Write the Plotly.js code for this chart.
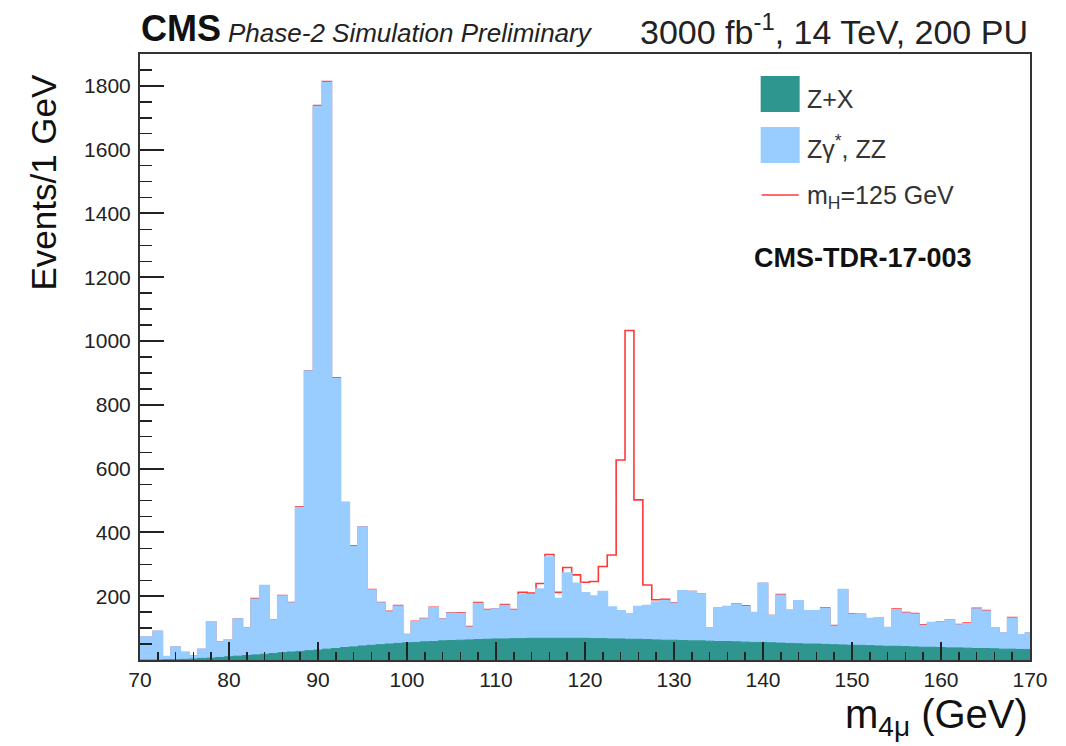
<!DOCTYPE html>
<html>
<head>
<meta charset="utf-8">
<script src="https://cdn.plot.ly/plotly-3.0.1.min.js"></script>
<style>html,body{margin:0;padding:0;background:#fff;}#chart{width:1066px;height:746px;}</style>
</head>
<body>
<div id="chart"></div>
<script>
// Bin centres (GeV), 1 GeV bins
const massBins = [70,71,72,73,74,75,76,77,78,79,80,81,82,83,84,85,86,87,88,89,90,91,92,93,94,95,96,97,98,99,
  100,101,102,103,104,105,106,107,108,109,110,111,112,113,114,115,116,117,118,119,120,121,122,123,124,125,126,127,128,129,
  130,131,132,133,134,135,136,137,138,139,140,141,142,143,144,145,146,147,148,149,150,151,152,153,154,155,156,157,158,159,
  160,161,162,163,164,165,166,167,168,169,170];

// Z+X background (events / bin)
const zPlusX = [0,0,0,1,1,2,3,5,6,8,10,12,14,16,18,20,23,25,27,29,
  31,34,36,39,41,44,46,48,50,52,54,55,57,58,60,61,62,63,64,65,
  66,66,67,67,68,68,68,68,68,68,68,67,67,66,66,65,65,64,63,62,
  62,61,60,60,59,58,58,57,56,55,55,54,53,52,51,50,50,49,48,47,
  46,46,45,44,43,43,42,41,40,40,39,38,38,37,36,36,35,34,34,33,33];

// Zgamma*, ZZ background (events / bin)
const zzBkg = [71,71,89,9,39,21,9,28,113,48,53,116,83,174,215,105,177,153,450,876,
  1704,1776,846,453,314,372,173,130,100,116,24,64,71,105,67,85,83,39,112,90,
  93,104,88,137,136,154,254,124,204,172,142,133,147,99,88,79,102,106,118,124,
  115,155,154,144,40,104,109,118,111,93,185,85,149,103,134,104,104,111,57,173,
  95,97,84,87,58,114,104,102,67,77,79,87,71,76,123,116,64,50,96,45,51];

// Higgs signal m_H = 125 GeV (events / bin)
const higgsSig = [0,0,0,0,0,0,0,0,0,0,0,0,2,3,0,0,2,2,3,2,
  3,4,3,2,3,1,2,2,3,3,2,2,2,2,1,2,3,3,4,3,
  1,4,3,8,6,18,9,20,18,27,34,46,79,164,473,889,335,65,8,4,
  2,1,1,2,0,0,0,1,3,0,0,0,3,0,0,0,0,3,3,0,
  3,0,0,0,0,3,3,3,3,0,2,0,2,3,3,3,0,0,3,0,0];

const xTickVals = [70,80,90,100,110,120,130,140,150,160,170];
const yTickVals = [200,400,600,800,1000,1200,1400,1600,1800];

// stack
const stackZX = zPlusX.slice();
const stackBkg = zPlusX.map((v, i) => v + zzBkg[i]);
const stackTot = stackBkg.map((v, i) => v + higgsSig[i]);

// step-histogram coordinates (left edges + closing right edge)
function stepX(centres) {
  const xs = centres.map(c => c - 0.5);
  xs.push(centres[centres.length - 1] + 0.5);
  return xs;
}
function stepY(vals) {
  const ys = vals.slice();
  ys.push(vals[vals.length - 1]);
  return ys;
}
const xs = stepX(massBins);

const FONT = 'Liberation Sans, Arial, Helvetica, sans-serif';
const TEAL = '#2e968f';
const BLUE = '#99ccff';
const RED = '#ff3838';

const traces = [
  { x: xs, y: stepY(stackTot), type: 'scatter', mode: 'lines', line: { shape: 'hv', color: RED, width: 1.6 },
    name: 'm<sub>H</sub>=125 GeV', hoverinfo: 'skip' },
  { x: xs, y: stepY(stackBkg), type: 'scatter', mode: 'lines', fill: 'tozeroy', fillcolor: BLUE,
    line: { shape: 'hv', color: BLUE, width: 2 }, name: 'Zγ*, ZZ', hoverinfo: 'skip' },
  { x: xs, y: stepY(stackZX), type: 'scatter', mode: 'lines', fill: 'tozeroy', fillcolor: TEAL,
    line: { shape: 'hv', color: TEAL, width: 1 }, name: 'Z+X', hoverinfo: 'skip' }
];

// layout helpers (plot area: 140.4..1030.3 px wide, 54..660 px tall)
const L = 140.4, R = 1030.3, T = 54, B = 660;
const px = x => (x - L) / (R - L);
const py = y => (B - y) / (B - T);

const layout = {
  width: 1066, height: 746,
  margin: { l: L, r: 1066 - R, t: T, b: 746 - B, pad: 0 },
  paper_bgcolor: '#ffffff', plot_bgcolor: '#ffffff',
  showlegend: false,
  font: { family: FONT, color: '#222' },
  xaxis: {
    range: [70, 170], tickmode: 'array', tickvals: xTickVals,
    ticks: 'inside', ticklen: 18, tickwidth: 2, tickcolor: '#222',
    minor: { ticks: 'inside', tickmode: 'linear', dtick: 2, tick0: 70, ticklen: 8, tickwidth: 1.5, tickcolor: '#222', showgrid: false },
    showline: true, mirror: true, linecolor: '#333', linewidth: 2,
    showgrid: false, zeroline: false,
    tickfont: { family: FONT, size: 21, color: '#222' }, ticklabelstandoff: 0
  },
  yaxis: {
    range: [0, 1900], tickmode: 'array', tickvals: yTickVals,
    ticks: 'inside', ticklen: 24, tickwidth: 2, tickcolor: '#222',
    minor: { ticks: 'inside', tickmode: 'linear', dtick: 50, tick0: 0, ticklen: 12, tickwidth: 1.5, tickcolor: '#222', showgrid: false },
    showline: true, mirror: true, linecolor: '#333', linewidth: 2,
    showgrid: false, zeroline: false,
    tickfont: { family: FONT, size: 21, color: '#222' }, ticklabelstandoff: 3
  },
  shapes: [
    { type: 'rect', xref: 'paper', yref: 'paper', x0: px(761), x1: px(800), y0: py(112), y1: py(76),
      fillcolor: TEAL, line: { width: 0 } },
    { type: 'rect', xref: 'paper', yref: 'paper', x0: px(761), x1: px(800), y0: py(163), y1: py(127),
      fillcolor: BLUE, line: { width: 0 } },
    { type: 'line', xref: 'paper', yref: 'paper', x0: px(762), x1: px(799), y0: py(195), y1: py(195),
      line: { color: RED, width: 1.6 } }
  ],
  annotations: [
    { xref: 'paper', yref: 'paper', x: px(139), y: py(29), xanchor: 'left', yanchor: 'middle', showarrow: false,
      text: '<b>CMS</b>', font: { family: FONT, size: 36, color: '#111' } },
    { xref: 'paper', yref: 'paper', x: px(226), y: py(33), xanchor: 'left', yanchor: 'middle', showarrow: false,
      text: '<i>Phase-2 Simulation Preliminary</i>', font: { family: FONT, size: 26, color: '#222' } },
    { xref: 'paper', yref: 'paper', x: 1, y: py(30), xanchor: 'right', yanchor: 'middle', showarrow: false,
      text: '3000 fb<sup>-1</sup>, 14 TeV, 200 PU', font: { family: FONT, size: 34, color: '#222' } },
    { xref: 'paper', yref: 'paper', x: px(43), y: py(182), xanchor: 'center', yanchor: 'middle', showarrow: false,
      textangle: -90, text: 'Events/1 GeV', font: { family: FONT, size: 35, color: '#111' } },
    { xref: 'paper', yref: 'paper', x: 1, y: py(717), xanchor: 'right', yanchor: 'middle', showarrow: false,
      text: 'm<sub>4μ</sub> (GeV)', font: { family: FONT, size: 40, color: '#111' } },
    { xref: 'paper', yref: 'paper', x: px(805), y: py(99), xanchor: 'left', yanchor: 'middle', showarrow: false,
      text: 'Z+X', font: { family: FONT, size: 25, color: '#333' } },
    { xref: 'paper', yref: 'paper', x: px(805), y: py(147), xanchor: 'left', yanchor: 'middle', showarrow: false,
      text: 'Zγ<sup>*</sup>, ZZ', font: { family: FONT, size: 25, color: '#333' } },
    { xref: 'paper', yref: 'paper', x: px(805), y: py(197), xanchor: 'left', yanchor: 'middle', showarrow: false,
      text: 'm<sub>H</sub>=125 GeV', font: { family: FONT, size: 25, color: '#333' } },
    { xref: 'paper', yref: 'paper', x: px(752), y: py(258), xanchor: 'left', yanchor: 'middle', showarrow: false,
      text: '<b>CMS-TDR-17-003</b>', font: { family: FONT, size: 27, color: '#111' } }
  ]
};

Plotly.newPlot('chart', traces, layout, { staticPlot: true, displayModeBar: false });
</script>
</body>
</html>
